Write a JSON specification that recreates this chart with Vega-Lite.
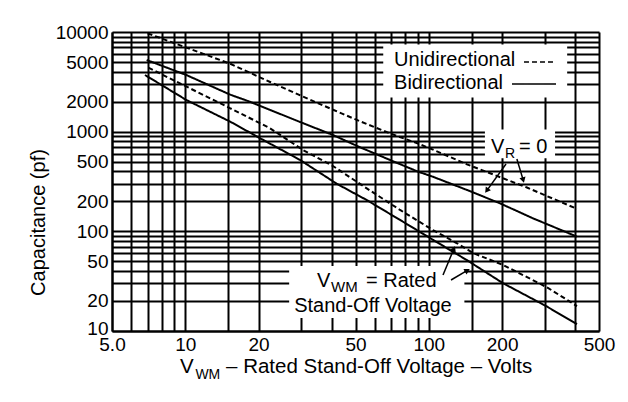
{
  "$schema": "https://vega.github.io/schema/vega-lite/v6.json",
  "width": 487,
  "height": 299,
  "autosize": {"type": "none"},
  "padding": {"left": 112, "top": 32, "right": 29, "bottom": 71},
  "background": "white",
  "config": {
    "view": {"stroke": null},
    "font": "Liberation Sans"
  },
  "datasets": {
    "boxes": [
      {"x": 65, "x2": 370, "y": 2200, "y2": 7500},
      {"x": 170, "x2": 330, "y": 540, "y2": 1050},
      {"x": 26.7, "x2": 140, "y": 13.5, "y2": 45}
    ],
    "lines": [
      {"series": "U_R", "kind": "U", "x": 7.0, "y": 9700},
      {"series": "U_R", "kind": "U", "x": 15.3, "y": 4800},
      {"series": "U_R", "kind": "U", "x": 22.3, "y": 3150},
      {"series": "U_R", "kind": "U", "x": 30.4, "y": 2250},
      {"series": "U_R", "kind": "U", "x": 40.4, "y": 1660},
      {"series": "U_R", "kind": "U", "x": 52.2, "y": 1270},
      {"series": "U_R", "kind": "U", "x": 69.3, "y": 960},
      {"series": "U_R", "kind": "U", "x": 90.3, "y": 760},
      {"series": "U_R", "kind": "U", "x": 104, "y": 660},
      {"series": "U_R", "kind": "U", "x": 143.5, "y": 470},
      {"series": "U_R", "kind": "U", "x": 253, "y": 275},
      {"series": "U_R", "kind": "U", "x": 406, "y": 168},
      {"series": "B_R", "kind": "B", "x": 6.94, "y": 5237},
      {"series": "B_R", "kind": "B", "x": 10.1, "y": 3700},
      {"series": "B_R", "kind": "B", "x": 15.3, "y": 2350},
      {"series": "B_R", "kind": "B", "x": 18.4, "y": 1999},
      {"series": "B_R", "kind": "B", "x": 29.6, "y": 1250},
      {"series": "B_R", "kind": "B", "x": 40.4, "y": 926},
      {"series": "B_R", "kind": "B", "x": 52.2, "y": 697},
      {"series": "B_R", "kind": "B", "x": 69.3, "y": 520},
      {"series": "B_R", "kind": "B", "x": 90.3, "y": 397},
      {"series": "B_R", "kind": "B", "x": 104, "y": 353},
      {"series": "B_R", "kind": "B", "x": 143.5, "y": 260},
      {"series": "B_R", "kind": "B", "x": 196, "y": 191},
      {"series": "B_R", "kind": "B", "x": 268, "y": 135},
      {"series": "B_R", "kind": "B", "x": 406, "y": 88.4},
      {"series": "U_W", "kind": "U", "x": 7.05, "y": 4383},
      {"series": "U_W", "kind": "U", "x": 15.3, "y": 1716},
      {"series": "U_W", "kind": "U", "x": 22.3, "y": 1081},
      {"series": "U_W", "kind": "U", "x": 30.4, "y": 655},
      {"series": "U_W", "kind": "U", "x": 40.4, "y": 452},
      {"series": "U_W", "kind": "U", "x": 55.6, "y": 270},
      {"series": "U_W", "kind": "U", "x": 76.2, "y": 163.8},
      {"series": "U_W", "kind": "U", "x": 104, "y": 103},
      {"series": "U_W", "kind": "U", "x": 130.6, "y": 75.9},
      {"series": "U_W", "kind": "U", "x": 152, "y": 60.6},
      {"series": "U_W", "kind": "U", "x": 201.7, "y": 46},
      {"series": "U_W", "kind": "U", "x": 306, "y": 27.4},
      {"series": "U_W", "kind": "U", "x": 406, "y": 17.8},
      {"series": "B_W", "kind": "B", "x": 6.83, "y": 3703},
      {"series": "B_W", "kind": "B", "x": 10.1, "y": 2078},
      {"series": "B_W", "kind": "B", "x": 15.3, "y": 1259},
      {"series": "B_W", "kind": "B", "x": 20.9, "y": 825},
      {"series": "B_W", "kind": "B", "x": 29.6, "y": 520},
      {"series": "B_W", "kind": "B", "x": 41.9, "y": 300},
      {"series": "B_W", "kind": "B", "x": 55.6, "y": 206},
      {"series": "B_W", "kind": "B", "x": 76.2, "y": 130},
      {"series": "B_W", "kind": "B", "x": 104.3, "y": 81.9},
      {"series": "B_W", "kind": "B", "x": 143, "y": 51.6},
      {"series": "B_W", "kind": "B", "x": 202, "y": 30.1},
      {"series": "B_W", "kind": "B", "x": 303, "y": 17.8},
      {"series": "B_W", "kind": "B", "x": 406, "y": 11.7}
    ],
    "texts": [
      {"x": 9.51, "y": 3.79, "text": "V", "size": 20.5},
      {"x": 11.0, "y": 3.3, "text": "WM", "size": 14},
      {"x": 14.7, "y": 3.79, "text": "– Rated Stand-Off Voltage – Volts", "size": 20.5},
      {"x": 72, "y": 4559, "text": "Unidirectional", "size": 20},
      {"x": 72, "y": 2680, "text": "Bidirectional", "size": 20},
      {"x": 180.1, "y": 611, "text": "V", "size": 20},
      {"x": 205.6, "y": 544, "text": "R", "size": 14},
      {"x": 234.7, "y": 611, "text": "= 0", "size": 20},
      {"x": 34.75, "y": 27.6, "text": "V", "size": 20},
      {"x": 39.7, "y": 24.6, "text": "WM", "size": 15},
      {"x": 55.2, "y": 27.6, "text": "= Rated", "size": 20},
      {"x": 28.0, "y": 15.5, "text": "Stand-Off Voltage", "size": 20}
    ],
    "key": [
      {"kind": "U", "x": 246, "x2": 333, "y": 5000},
      {"kind": "B", "x": 219.6, "x2": 333, "y": 3008}
    ],
    "shafts": [
      {"x": 207.5, "y": 473.8, "x2": 173, "y2": 256},
      {"x": 230, "y": 531.8, "x2": 244.2, "y2": 326.6},
      {"x": 114.4, "y": 36.5, "x2": 126.8, "y2": 66.8},
      {"x": 123.4, "y": 32.5, "x2": 144, "y2": 40.5}
    ],
    "heads": [
      {"x": 173, "y": 256, "angle": 216},
      {"x": 244.2, "y": 326.6, "angle": 164},
      {"x": 126.8, "y": 66.8, "angle": 22.5},
      {"x": 144, "y": 40.5, "angle": 60}
    ]
  },
  "encoding": {
    "x": {
      "field": "x",
      "type": "quantitative",
      "scale": {"type": "log", "domain": [5, 500], "nice": false},
      "axis": {
        "values": [5, 6, 7, 8, 9, 10, 15, 20, 30, 40, 50, 60, 70, 80, 90, 100, 150, 200, 300, 400, 500],
        "labelExpr": "datum.value == 5 ? '5.0' : (indexof([10,20,50,100,200,500], datum.value) >= 0 ? format(datum.value, 'd') : '')",
        "title": null,
        "grid": true,
        "gridColor": "black",
        "gridWidth": 2,
        "gridOpacity": 1,
        "domain": true,
        "domainColor": "black",
        "domainWidth": 2,
        "ticks": false,
        "labelFontSize": 19,
        "labelColor": "black",
        "labelPadding": 4,
        "labelFlush": false,
        "labelOverlap": false,
        "labelBound": false
      }
    },
    "y": {
      "field": "y",
      "type": "quantitative",
      "scale": {"type": "log", "domain": [10, 10000], "nice": false},
      "axis": {
        "values": [10, 20, 30, 40, 50, 60, 70, 80, 90, 100, 200, 300, 400, 500, 600, 700, 800, 900, 1000, 2000, 3000, 4000, 5000, 6000, 7000, 8000, 9000, 10000],
        "labelExpr": "indexof([10,20,50,100,200,500,1000,2000,5000,10000], datum.value) >= 0 ? format(datum.value, 'd') : ''",
        "labelOffset": {"condition": {"test": "datum.value == 10", "value": -3}, "value": 0},
        "title": "Capacitance (pf)",
        "titleFontSize": 20,
        "titleFontWeight": "normal",
        "titleColor": "black",
        "titleAngle": -90,
        "titleX": -67.5,
        "titleY": 190,
        "titleAlign": "center",
        "titleBaseline": "alphabetic",
        "grid": true,
        "gridColor": "black",
        "gridWidth": 2,
        "gridOpacity": 1,
        "domain": true,
        "domainColor": "black",
        "domainWidth": 2,
        "ticks": false,
        "labelFontSize": 19,
        "labelColor": "black",
        "labelPadding": 4,
        "labelFlush": false,
        "labelOverlap": false,
        "labelBound": false
      }
    }
  },
  "layer": [
    {
      "data": {"name": "boxes"},
      "mark": {"type": "rect", "fill": "white", "strokeWidth": 0},
      "encoding": {
        "x2": {"field": "x2"},
        "y2": {"field": "y2"}
      }
    },
    {
      "data": {"name": "lines"},
      "mark": {"type": "line", "color": "black", "strokeWidth": 2},
      "encoding": {
        "detail": {"field": "series", "type": "nominal"},
        "strokeDash": {
          "field": "kind",
          "type": "nominal",
          "scale": {"domain": ["U", "B"], "range": [[5, 3], [1, 0]]},
          "legend": null
        }
      }
    },
    {
      "data": {"name": "key"},
      "mark": {"type": "rule", "color": "black", "strokeWidth": 1.5},
      "encoding": {
        "x2": {"field": "x2"},
        "strokeDash": {
          "field": "kind",
          "type": "nominal",
          "scale": {"domain": ["U", "B"], "range": [[5, 3], [1, 0]]},
          "legend": null
        }
      }
    },
    {
      "data": {"name": "texts"},
      "mark": {"type": "text", "align": "left", "baseline": "alphabetic", "color": "black", "font": "Liberation Sans"},
      "encoding": {
        "text": {"field": "text"},
        "size": {"field": "size", "type": "quantitative", "scale": null}
      }
    },
    {
      "data": {"name": "shafts"},
      "mark": {"type": "rule", "color": "black", "strokeWidth": 1.5},
      "encoding": {
        "x2": {"field": "x2"},
        "y2": {"field": "y2"}
      }
    },
    {
      "data": {"name": "heads"},
      "mark": {"type": "point", "shape": "triangle-up", "filled": true, "color": "black", "opacity": 1, "size": 40},
      "encoding": {
        "angle": {"field": "angle", "type": "quantitative", "scale": null}
      }
    }
  ]
}
